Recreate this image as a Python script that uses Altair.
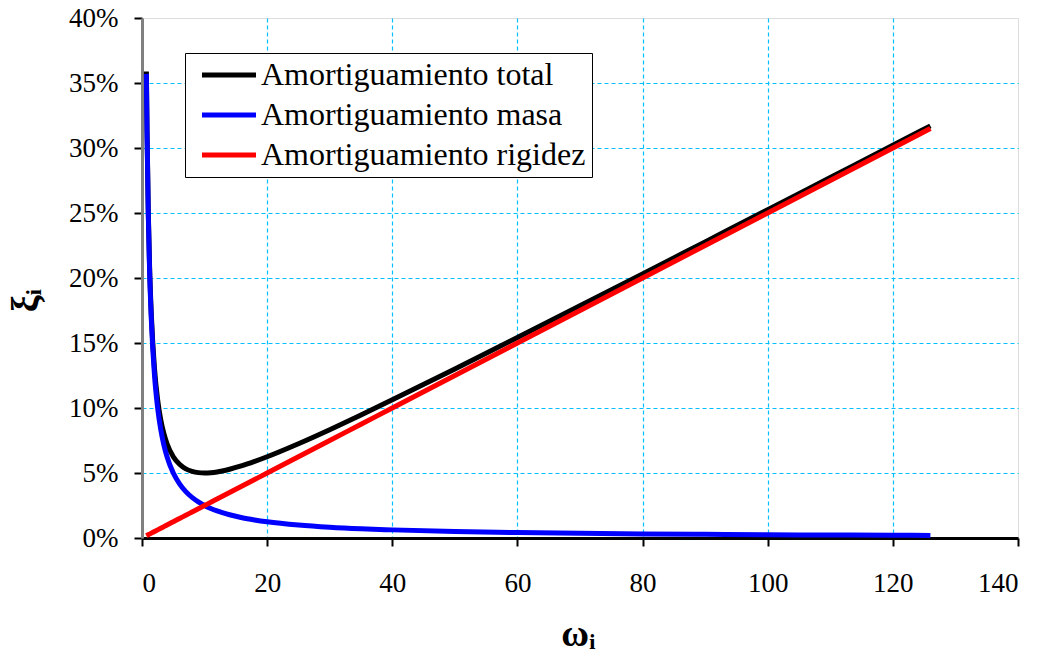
import altair as alt
import pandas as pd

omega = [0.7, 0.8, 1.0, 1.2, 1.5, 2, 2.5, 3, 3.5, 4, 5, 6, 7, 8, 9, 10, 11, 12, 14, 16, 18, 20,
         25, 30, 35, 40, 50, 60, 70, 80, 90, 100, 110, 120, 126]
masa = [0.357, 0.3125, 0.25, 0.208, 0.167, 0.125, 0.1, 0.0833, 0.0714, 0.0625, 0.05, 0.0417,
        0.0357, 0.03125, 0.0278, 0.025, 0.0227, 0.0208, 0.0179, 0.0156, 0.0139, 0.0125, 0.01,
        0.0083, 0.0071, 0.00625, 0.005, 0.0042, 0.0036, 0.0031, 0.0028, 0.0025, 0.0023, 0.0021, 0.0020]
rigidez = [0.00175, 0.002, 0.0025, 0.003, 0.00375, 0.005, 0.00625, 0.0075, 0.00875, 0.01, 0.0125,
           0.015, 0.0175, 0.02, 0.0225, 0.025, 0.0275, 0.03, 0.035, 0.04, 0.045, 0.05, 0.0625,
           0.075, 0.0875, 0.1, 0.125, 0.15, 0.175, 0.2, 0.225, 0.25, 0.275, 0.3, 0.315]
total = [0.3588, 0.3145, 0.2525, 0.211, 0.1708, 0.13, 0.1063, 0.0908, 0.0802, 0.0725, 0.0625,
         0.0567, 0.0532, 0.0513, 0.0503, 0.05, 0.0502, 0.0508, 0.0529, 0.0556, 0.0589, 0.0625,
         0.0725, 0.0833, 0.0946, 0.1063, 0.13, 0.1542, 0.1786, 0.2031, 0.2278, 0.2525, 0.2773,
         0.3021, 0.317]

series = ["Amortiguamiento total", "Amortiguamiento masa", "Amortiguamiento rigidez"]
colors = ["#000000", "#0000FF", "#FF0000"]

rows = []
for name, vals in zip(series, [total, masa, rigidez]):
    for i, (w, v) in enumerate(zip(omega, vals)):
        rows.append({"omega": w, "xi": v, "serie": name, "orden": i})
df = pd.DataFrame(rows)

FONT = "Liberation Serif"

chart = alt.Chart(df).mark_line(strokeWidth=5, interpolate="monotone").encode(
    x=alt.X("omega:Q",
            scale=alt.Scale(domain=[0, 140], nice=False),
            axis=alt.Axis(values=[0, 20, 40, 60, 80, 100, 120, 140], title="ωᵢ",
                          labelFont=FONT, labelFontSize=27, labelPadding=24, labelColor="black",
                          titleFontSize=38, titleFontWeight="bold", titleFont=FONT,
                          titleX=436, titleY=96, titleBaseline="middle", titleColor="black",
                          domainColor="black", domainWidth=3, tickColor="black", tickWidth=2,
                          tickSize=8,
                          gridColor="#00BFFF", gridDash=[4, 3], gridWidth=1.2,
                          gridOpacity={"condition": {"test": "datum.value <= 0 || datum.value >= 140", "value": 0}, "value": 1})),
    y=alt.Y("xi:Q",
            scale=alt.Scale(domain=[0, 0.4], nice=False),
            axis=alt.Axis(values=[0, 0.05, 0.1, 0.15, 0.2, 0.25, 0.3, 0.35, 0.4], format=".0%",
                          title="ξᵢ", labelFont=FONT, labelFontSize=27, labelPadding=16,
                          labelColor="black",
                          titleFontSize=38, titleFontWeight="bold", titleFont=FONT,
                          titleX=-116, titleY=282, titleAngle=-90, titleBaseline="middle",
                          titleColor="black",
                          domainColor="#808080", domainWidth=3, tickColor="black", tickWidth=2,
                          tickSize=8,
                          gridColor="#00BFFF", gridDash=[4, 3], gridWidth=1.2,
                          gridOpacity={"condition": {"test": "datum.value <= 0 || datum.value >= 0.4", "value": 0}, "value": 1})),
    color=alt.Color("serie:N", scale=alt.Scale(domain=series, range=colors),
                    legend=alt.Legend(title=None, orient="none", legendX=43, legendY=35,
                                      direction="vertical",
                                      symbolType="M-2.7,0L2.7,0", symbolSize=400,
                                      symbolStrokeWidth=5, symbolOffset=22,
                                      labelFontSize=32, labelFont=FONT, labelColor="black",
                                      labelLimit=500, rowPadding=8, padding=6,
                                      strokeColor="black", fillColor="white",
                                      labelOffset=16)),
    order=alt.Order("orden:Q"),
    detail="serie:N",
).properties(
    width=876, height=520,
    autosize=alt.AutoSizeParams(type="none"),
    padding={"left": 142, "top": 18, "right": 25, "bottom": 119},
).configure_view(
    stroke="#808080", strokeWidth=3
).configure(background="white")

chart.save("out.html", embed_options={"renderer": "svg", "actions": False})
